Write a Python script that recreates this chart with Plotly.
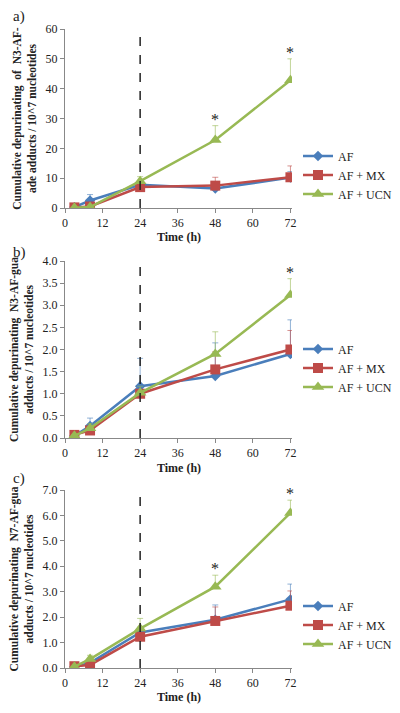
import plotly.graph_objects as go

time_h = [3, 8, 24, 48, 72]
series_names = ["AF", "AF + MX", "AF + UCN"]

# Panel a: N3-AF-ade
a_af = [0.3, 2.5, 7.8, 6.5, 10.2]
a_af_err = [0.3, 2.0, 1.0, 0.8, 2.0]
a_mx = [0.2, 0.5, 7.0, 7.5, 10.3]
a_mx_err = [0.2, 0.5, 1.0, 2.8, 3.8]
a_ucn = [0.1, 0.3, 9.0, 22.8, 42.8]
a_ucn_err = [0.1, 0.3, 1.5, 4.8, 7.2]
a_sig = [None, None, None, "*", "*"]

# Panel b: N3-AF-gua
b_af = [0.05, 0.27, 1.17, 1.40, 1.90]
b_af_err = [0.02, 0.18, 0.63, 0.75, 0.77]
b_mx = [0.07, 0.17, 1.00, 1.55, 2.00]
b_mx_err = [0.02, 0.10, 0.10, 0.40, 0.43]
b_ucn = [0.05, 0.22, 1.02, 1.90, 3.23]
b_ucn_err = [0.02, 0.10, 0.15, 0.50, 0.37]
b_sig = [None, None, None, None, "*"]

# Panel c: N7-AF-gua
c_af = [0.05, 0.20, 1.40, 1.90, 2.70]
c_af_err = [0.03, 0.15, 0.20, 0.58, 0.60]
c_mx = [0.07, 0.12, 1.23, 1.85, 2.45]
c_mx_err = [0.03, 0.08, 0.15, 0.55, 0.58]
c_ucn = [0.05, 0.35, 1.55, 3.20, 6.10]
c_ucn_err = [0.03, 0.15, 0.40, 0.45, 0.50]
c_sig = [None, None, None, "*", "*"]

panels = [
    dict(label="a)", vals=[a_af, a_mx, a_ucn], errs=[a_af_err, a_mx_err, a_ucn_err], sig=a_sig,
         ytitle="Cumulative depurinating  of  N3-AF-<br>ade adducts / 10^7 nucleotides",
         yrange=[0, 60], dtick=10, fmt="d"),
    dict(label="b)", vals=[b_af, b_mx, b_ucn], errs=[b_af_err, b_mx_err, b_ucn_err], sig=b_sig,
         ytitle="Cumulative depurinating  N3-AF-gua<br>adducts / 10^7 nucleotides",
         yrange=[0, 4], dtick=0.5, fmt=".1f"),
    dict(label="c)", vals=[c_af, c_mx, c_ucn], errs=[c_af_err, c_mx_err, c_ucn_err], sig=c_sig,
         ytitle="Cumulative depurinating  N7-AF-gua<br>adducts / 10^7 nucleotides",
         yrange=[0, 7], dtick=1, fmt=".1f"),
]

colors = ["#4A7EBB", "#BE4B48", "#98B954"]
err_colors = ["rgba(74,126,187,0.6)", "rgba(190,75,72,0.6)", "rgba(152,185,84,0.6)"]
symbols = ["diamond", "square", "triangle-up"]
msizes = [8, 10, 11]

W, H = 400, 713
# pixel boxes in page coordinates (top, bottom) for each panel
boxes = [(29, 208), (261, 438), (490, 668)]
x_left, x_right = 65, 292
legend_y = [175, 368, 625]
xtitle_y = [237, 468, 697]
label_y = [16, 252, 478]
legend_x = 298


def px(v):
    return v / W


def py(v):
    return 1 - v / H


FONT = "Liberation Serif"
fig = go.Figure()
layout = dict(
    width=W, height=H, margin=dict(l=0, r=0, t=0, b=0, autoexpand=False),
    paper_bgcolor="white", plot_bgcolor="white",
    font=dict(family=FONT, size=12, color="#222"),
    shapes=[], annotations=[],
)

for i, p in enumerate(panels):
    k = "" if i == 0 else str(i + 1)
    xa, ya = "x" + k, "y" + k
    leg = "legend" + k
    top, bot = boxes[i]
    for j in range(3):
        fig.add_trace(go.Scatter(
            x=time_h, y=p["vals"][j], name=series_names[j], mode="lines+markers",
            xaxis=xa, yaxis=ya, legend=leg,
            line=dict(color=colors[j], width=2.5),
            marker=dict(symbol=symbols[j], size=msizes[j], color=colors[j]),
            error_y=dict(type="data", array=p["errs"][j], arrayminus=[0] * 5, symmetric=False,
                         color=err_colors[j], thickness=1, width=3),
        ))
    # significance stars
    ucn = p["vals"][2]
    ucn_e = p["errs"][2]
    for t, v, e, s in zip(time_h, ucn, ucn_e, p["sig"]):
        if s:
            layout["annotations"].append(dict(
                x=t, y=v + e, xref=xa, yref=ya, text=s, showarrow=False,
                xanchor="center", yanchor="bottom", yshift=-4,
                font=dict(size=16, family=FONT, color="#222")))
    # dashed line at 24 h
    layout["shapes"].append(dict(
        type="line", x0=24, x1=24, y0=0, y1=1, xref=xa, yref=ya + " domain",
        line=dict(color="#222", width=1.5, dash="dash")))
    axis_common = dict(showgrid=False, zeroline=False, showline=True, linecolor="#888",
                       linewidth=1, ticks="outside", ticklen=4, tickcolor="#888", automargin=False,
                       tickfont=dict(family=FONT, size=12, color="#222"))
    layout["xaxis" + k] = dict(
        axis_common, domain=[px(x_left), px(x_right)], anchor=ya, range=[0, 72.5],
        tickvals=[0, 12, 24, 36, 48, 60, 72])
    layout["yaxis" + k] = dict(
        axis_common, domain=[py(bot), py(top)], anchor=xa, range=p["yrange"],
        dtick=p["dtick"], tickformat=p["fmt"],
        title=dict(text="<b>" + p["ytitle"] + "</b>",
                   font=dict(family=FONT, size=11.5, color="#222"), standoff=6))
    layout[leg] = dict(
        x=px(legend_x), y=py(legend_y[i]), xanchor="left", yanchor="middle",
        font=dict(family=FONT, size=12, color="#222"), bgcolor="rgba(0,0,0,0)",
        itemwidth=30, tracegroupgap=0)
    layout["annotations"].append(dict(
        x=px((x_left + x_right) / 2), y=py(xtitle_y[i]), xref="paper", yref="paper",
        xanchor="center", yanchor="middle",
        text="<b>Time (h)</b>", showarrow=False, font=dict(family=FONT, size=12, color="#222")))
    layout["annotations"].append(dict(
        x=px(11), y=py(label_y[i]), xref="paper", yref="paper", xanchor="left", yanchor="middle",
        text=p["label"], showarrow=False, font=dict(family=FONT, size=15, color="#222")))

fig.update_layout(**layout)
fig.write_html("out.html", config={"displayModeBar": False},
               post_script="document.body.style.margin='0';document.body.style.overflow='hidden';")
